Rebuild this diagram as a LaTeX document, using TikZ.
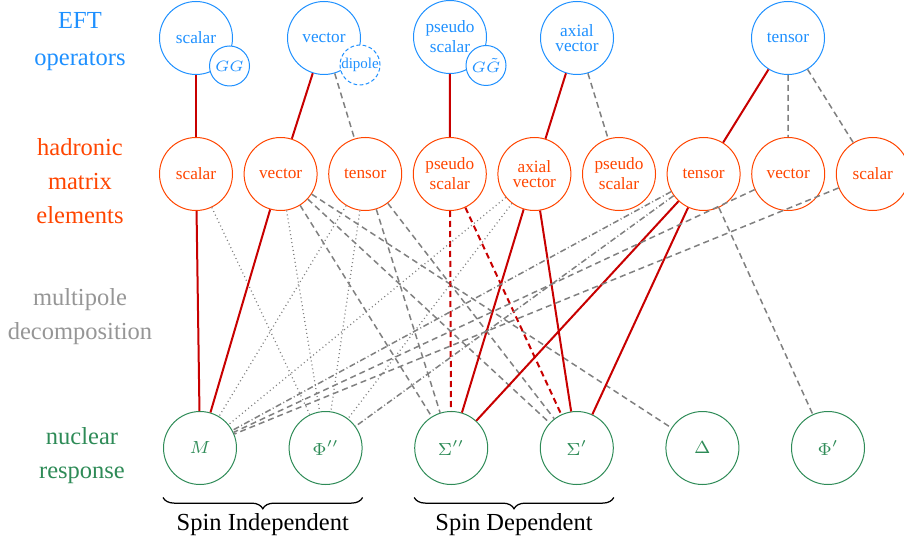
\documentclass[tikz,border=0pt]{standalone}
\usepackage{fontspec}
\setmainfont{Liberation Serif}
\usetikzlibrary{calc, decorations.pathreplacing}
\definecolor{eftblue}{RGB}{30,144,255}
\definecolor{hadorange}{RGB}{255,69,0}
\definecolor{mpgray}{RGB}{150,150,150}
\definecolor{nucgreen}{RGB}{46,139,87}
\definecolor{linkred}{RGB}{200,0,0}
\definecolor{linkgray}{RGB}{128,128,128}

\tikzset{
  opcirc/.style={circle, draw=eftblue, text=eftblue, minimum size=29.2pt, inner sep=0pt, align=center, font=\fontsize{6.9}{8}\selectfont},
  subcirc/.style={circle, draw=eftblue, fill=white, text=eftblue, minimum size=16pt, inner sep=0pt, font=\fontsize{6}{7}\selectfont},
  hadcirc/.style={circle, draw=hadorange, text=hadorange, minimum size=29.2pt, inner sep=0pt, align=center, font=\fontsize{6.9}{8}\selectfont},
  respcirc/.style={circle, draw=nucgreen, text=nucgreen, minimum size=29.2pt, inner sep=0pt, font=\fontsize{6.9}{8}\selectfont},
  rowlabel/.style={align=center, font=\fontsize{9.8}{13.6}\selectfont},
  lead/.style={draw=linkred, line width=0.8pt},
  leaddash/.style={draw=linkred, line width=0.8pt, dash pattern=on 2.4pt off 1.6pt},
  subdash/.style={draw=linkgray, line width=0.6pt, dash pattern=on 2.4pt off 1.6pt},
  subdot/.style={draw=linkgray, line width=0.5pt, dash pattern=on 0.4pt off 1.2pt},
  subdashdot/.style={draw=linkgray, line width=0.6pt, dash pattern=on 2.4pt off 1pt on 0.4pt off 1pt},
  spinbrace/.style={decorate, decoration={brace, mirror, amplitude=4.5pt}, line width=0.5pt}
}

\begin{document}
\begin{tikzpicture}[x=0.4pt, y=-0.4pt]
  \useasboundingbox (0,0) rectangle (904,545);

  % row labels
  \node[rowlabel, text=eftblue, font=\fontsize{9.8}{14.8}\selectfont] (lab-eft) at (80,42) {EFT\\operators};
  \node[rowlabel, text=hadorange] (lab-had) at (80,181) {hadronic\\matrix\\elements};
  \node[rowlabel, text=mpgray] (lab-mp) at (80,317) {multipole\\decomposition};
  \node[rowlabel, text=nucgreen] (lab-nuc) at (82,455.5) {nuclear\\response};

  % EFT operators
  \node[opcirc] (os) at (196,38) {scalar};
  \node[opcirc] (ov) at (324,38) {vector};
  \node[opcirc] (ops) at (450,37) {pseudo\\scalar};
  \node[opcirc] (oa) at (577,38) {axial\\[-2pt]vector};
  \node[opcirc] (ot) at (788,38) {tensor};
  \node[subcirc] (gg) at (229.5,66) {$GG$};
  \node[subcirc, dash pattern=on 1.5pt off 1pt] (dip) at (360,65) {dipole};
  \node[subcirc] (ggt) at (486,65.5) {$G\tilde G$};

  % hadronic matrix elements
  \node[hadcirc] (hs) at (196,174) {scalar};
  \node[hadcirc] (hv) at (280.6,174) {vector};
  \node[hadcirc] (ht) at (365.2,174) {tensor};
  \node[hadcirc] (hps) at (449.8,174) {pseudo\\scalar};
  \node[hadcirc] (ha) at (534.4,174) {axial\\[-2pt]vector};
  \node[hadcirc] (hpsb) at (619,174) {pseudo\\scalar};
  \node[hadcirc] (htb) at (703.6,174) {tensor};
  \node[hadcirc] (hvb) at (788.2,174) {vector};
  \node[hadcirc] (hsb) at (872.8,174) {scalar};

  % nuclear responses
  \node[respcirc] (m) at (200,448) {$M$};
  \node[respcirc] (phipp) at (325.6,448) {$\Phi''$};
  \node[respcirc] (sigpp) at (451.2,448) {$\Sigma''$};
  \node[respcirc] (sigp) at (576.8,448) {$\Sigma'$};
  \node[respcirc] (delta) at (702.4,448) {$\Delta$};
  \node[respcirc] (phip) at (828,448) {$\Phi'$};

  % operators -> hadronic
  \draw[lead] (os) -- (hs);
  \draw[lead] (ov) -- (hv);
  \draw[subdash] (ov) -- (ht);
  \draw[lead] (ops) -- (hps);
  \draw[lead] (oa) -- (ha);
  \draw[subdash] (oa) -- (hpsb);
  \draw[lead] (ot) -- (htb);
  \draw[subdash] (ot) -- (hvb);
  \draw[subdash] (ot) -- (hsb);

  % hadronic -> nuclear
  \draw[lead] (hs) -- (m);
  \draw[subdot] (hs) -- (phipp);
  \draw[lead] (hv) -- (m);
  \draw[subdot] (hv) -- (phipp);
  \draw[subdash] (hv) -- (sigpp);
  \draw[subdash] (hv) -- (sigp);
  \draw[subdash] (hv) -- (delta);
  \draw[subdot] (ht) -- (m);
  \draw[subdot] (ht) -- (phipp);
  \draw[subdash] (ht) -- (sigpp);
  \draw[subdash] (ht) -- (sigp);
  \draw[leaddash] (hps) -- (sigpp);
  \draw[leaddash] (hps) -- (sigp);
  \draw[lead] (ha) -- (sigpp);
  \draw[lead] (ha) -- (sigp);
  \draw[subdot] (ha) -- (m);
  \draw[subdot] (ha) -- (phipp);
  \draw[lead] (htb) -- (sigpp);
  \draw[lead] (htb) -- (sigp);
  \draw[subdash] (htb) -- (phip);
  \draw[subdashdot] (htb) -- (m);
  \draw[subdashdot] (htb) -- (phipp);
  \draw[subdash] (hvb) -- (m);
  \draw[subdash] (hsb) -- (m);

  % spin braces
  \draw[spinbrace] ([yshift=-5pt]m.south -| m.west) -- ([yshift=-5pt]phipp.south -| phipp.east)
    node[midway, below=3pt, font=\fontsize{9.8}{12}\selectfont] (si) {Spin Independent};
  \draw[spinbrace] ([yshift=-5pt]sigpp.south -| sigpp.west) -- ([yshift=-5pt]sigp.south -| sigp.east)
    node[midway, below=3pt, font=\fontsize{9.8}{12}\selectfont] (sd) {Spin Dependent};
\end{tikzpicture}
\end{document}
